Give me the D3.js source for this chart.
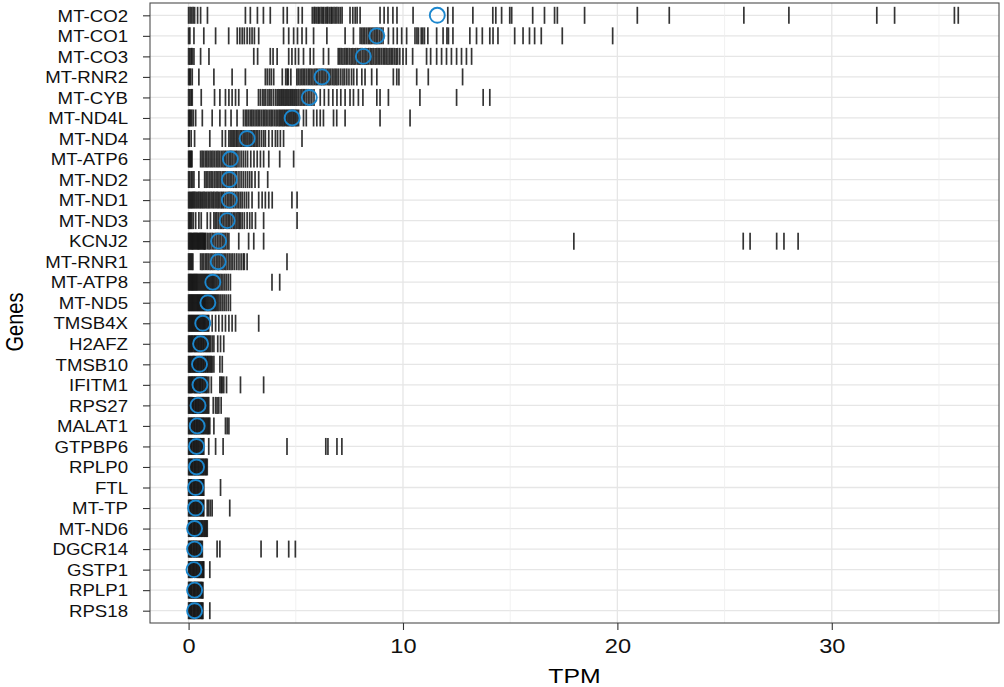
<!DOCTYPE html>
<html>
<head>
<meta charset="utf-8">
<script src="https://cdn.jsdelivr.net/npm/d3@7"></script>
<style>
  body { margin: 0; background: #fff; }
  svg { display: block; font-family: "Liberation Sans", Arial, sans-serif; }
</style>
</head>
<body>
<div id="graph_div"></div>
<script>
// genes, top to bottom
const genes = ["MT-CO2", "MT-CO1", "MT-CO3", "MT-RNR2", "MT-CYB", "MT-ND4L", "MT-ND4", "MT-ATP6",
  "MT-ND2", "MT-ND1", "MT-ND3", "KCNJ2", "MT-RNR1", "MT-ATP8", "MT-ND5", "TMSB4X", "H2AFZ",
  "TMSB10", "IFITM1", "RPS27", "MALAT1", "GTPBP6", "RPLP0", "FTL", "MT-TP", "MT-ND6", "DGCR14",
  "GSTP1", "RPLP1", "RPS18"];

// blue circles, one per gene
const meanTPM = [11.6, 8.78, 8.15, 6.22, 5.63, 4.83, 2.73, 1.95, 1.9, 1.9, 1.8, 1.4, 1.38, 1.13,
  0.9, 0.66, 0.56, 0.51, 0.53, 0.44, 0.4, 0.37, 0.37, 0.33, 0.33, 0.28, 0.28, 0.25, 0.28, 0.28];

const xTicks = [0, 10, 20, 30];
const xMinor = [5, 15, 25, 35];

// per-cell TPM values (tick marks), same order as genes
const cellTPM = [
  // MT-CO2
  [0, 0.07, 0.14, 0.21, 0.28, 0.42, 0.56, 0.88, 2.65, 2.88, 3.21, 3.49, 3.81, 4.42, 4.6, 5.12, 5.3,
   5.77, 5.85, 5.9, 5.98, 6.05, 6.1, 6.18, 6.25, 6.3, 6.38, 6.45, 6.5, 6.58, 6.65, 6.7, 6.78, 6.85,
   6.92, 7.0, 7.08, 7.16, 7.53, 7.66, 7.77, 7.86, 8.0, 8.93, 9.12, 9.3, 9.53, 9.72, 10.47, 12.09,
   12.33, 13.26, 14.19, 14.33, 14.6, 14.98, 15.07, 16.05, 16.6, 17.07, 17.2, 18.47, 20.93, 22.42,
   25.9, 28.0, 32.1, 32.93, 35.72, 35.9],
  // MT-CO1
  [0, 0.06, 0.25, 0.71, 1.26, 1.87, 2.27, 2.39, 2.5, 2.6, 2.73, 2.85, 2.96, 3.07, 3.27, 4.43, 4.67,
   4.9, 5.08, 5.29, 5.49, 5.83, 6.45, 7.3, 7.69, 8.0, 8.08, 8.15, 8.22, 8.3, 8.38, 8.45, 8.52, 8.6,
   8.68, 8.75, 8.82, 8.9, 8.98, 9.07, 9.32, 9.55, 9.73, 9.94, 10.17, 10.56, 10.65, 10.72, 10.85,
   10.92, 11.0, 11.16, 11.57, 11.87, 12.05, 12.12, 12.33, 13.12, 13.43, 13.7, 14.05, 14.2, 14.43,
   15.21, 15.6, 15.9, 16.14, 16.45, 17.43, 19.78],
  // MT-CO3
  [0, 0.06, 0.12, 0.17, 0.25, 0.56, 0.95, 3.04, 3.22, 3.81, 3.94, 4.13, 4.67, 4.82, 4.98, 5.13, 5.36,
   5.67, 5.83, 6.29, 6.53, 6.98, 7.05, 7.12, 7.2, 7.28, 7.35, 7.42, 7.5, 7.58, 7.65, 7.72, 7.8, 7.88,
   7.95, 8.02, 8.1, 8.18, 8.25, 8.32, 8.4, 8.48, 8.55, 8.62, 8.7, 8.78, 8.85, 8.92, 9.0, 9.08, 9.15,
   9.22, 9.3, 9.38, 9.45, 9.52, 9.6, 9.68, 9.75, 9.85, 10.0, 10.15, 10.45, 11.1, 11.29, 11.57, 11.8,
   12.03, 12.26, 12.5, 12.73, 12.96, 13.2],
  // MT-RNR2
  [0, 0.05, 0.09, 0.17, 0.48, 1.18, 2.03, 2.65, 3.58, 3.67, 3.77, 3.86, 3.97, 4.37, 4.53, 4.6, 4.65,
   4.77, 5.05, 5.12, 5.2, 5.28, 5.35, 5.42, 5.5, 5.58, 5.65, 5.72, 5.8, 5.88, 5.95, 6.02, 6.1, 6.18,
   6.25, 6.32, 6.4, 6.48, 6.55, 6.62, 6.7, 6.78, 6.85, 6.92, 7.0, 7.1, 7.2, 7.28, 7.38, 7.48, 7.6,
   7.7, 7.85, 8.08, 8.23, 8.54, 8.78, 9.55, 9.71, 9.81, 10.64, 11.18, 12.78],
  // MT-CYB
  [0, 0.06, 0.12, 0.17, 0.59, 1.21, 1.46, 1.72, 1.88, 2.03, 2.19, 2.34, 2.73, 3.26, 3.35, 3.45, 3.52,
   3.6, 3.7, 3.78, 3.85, 3.95, 4.05, 4.13, 4.2, 4.26, 4.32, 4.38, 4.44, 4.5, 4.56, 4.62, 4.68, 4.74,
   4.8, 4.86, 4.92, 4.98, 5.05, 5.12, 5.2, 5.28, 5.35, 5.42, 5.5, 5.58, 5.66, 5.75, 5.85, 6.14, 6.33,
   6.53, 6.73, 6.92, 7.1, 7.3, 7.53, 7.69, 7.92, 8.13, 8.78, 8.93, 9.32, 10.79, 12.5, 13.74, 14.05],
  // MT-ND4L
  [0, 0.05, 0.09, 0.15, 0.22, 0.33, 0.64, 1.1, 1.46, 1.72, 1.98, 2.26, 2.56, 2.65, 2.72, 2.8, 2.88,
   2.95, 3.02, 3.1, 3.18, 3.25, 3.32, 3.4, 3.48, 3.55, 3.62, 3.7, 3.78, 3.85, 3.92, 4.0, 4.08, 4.15,
   4.22, 4.28, 4.34, 4.4, 4.46, 4.52, 4.58, 4.64, 4.7, 4.76, 4.82, 4.88, 4.94, 5.0, 5.06, 5.13, 5.36,
   5.49, 5.83, 5.98, 6.14, 6.29, 6.76, 6.91, 7.3, 8.93, 10.33],
  // MT-ND4
  [0, 0.03, 0.12, 0.28, 0.99, 1.57, 1.72, 1.88, 1.95, 2.02, 2.08, 2.15, 2.22, 2.28, 2.35, 2.42, 2.48,
   2.55, 2.62, 2.68, 2.75, 2.82, 2.88, 2.95, 3.02, 3.08, 3.15, 3.22, 3.3, 3.4, 3.5, 3.58, 3.74, 3.9,
   4.05, 4.15, 4.28, 4.43, 5.29],
  // MT-ATP6
  [0, 0.04, 0.08, 0.12, 0.16, 0.56, 0.63, 0.7, 0.78, 0.85, 0.92, 1.0, 1.07, 1.14, 1.22, 1.3, 1.37,
   1.44, 1.52, 1.6, 1.67, 1.74, 1.82, 1.9, 1.97, 2.04, 2.12, 2.2, 2.26, 2.35, 2.45, 2.55, 2.65, 2.75,
   2.9, 3.05, 3.2, 3.35, 3.5, 3.74, 4.25, 4.9],
  // MT-ND2
  [0, 0.05, 0.12, 0.18, 0.25, 0.48, 0.75, 0.82, 0.9, 0.98, 1.05, 1.12, 1.2, 1.28, 1.35, 1.42, 1.5,
   1.58, 1.65, 1.72, 1.8, 1.88, 1.95, 2.02, 2.1, 2.18, 2.25, 2.35, 2.45, 2.55, 2.65, 2.75, 2.85, 2.95,
   3.1, 3.27, 3.69],
  // MT-ND1
  [0, 0.05, 0.1, 0.15, 0.2, 0.25, 0.3, 0.36, 0.42, 0.48, 0.54, 0.6, 0.66, 0.72, 0.78, 0.85, 0.92,
   0.98, 1.05, 1.12, 1.18, 1.25, 1.32, 1.38, 1.45, 1.52, 1.58, 1.64, 1.72, 1.8, 1.88, 1.95, 2.02, 2.1,
   2.18, 2.26, 2.34, 2.42, 2.5, 2.6, 2.7, 2.8, 2.96, 3.27, 3.43, 3.58, 3.74, 3.9, 4.82, 5.06],
  // MT-ND3
  [0, 0.05, 0.09, 0.15, 0.22, 0.33, 0.48, 0.59, 0.87, 1.02, 1.18, 1.25, 1.32, 1.4, 1.48, 1.55, 1.62,
   1.7, 1.78, 1.85, 1.92, 2.0, 2.08, 2.15, 2.22, 2.3, 2.36, 2.42, 2.5, 2.6, 2.73, 2.85, 2.96, 3.12,
   3.5, 5.06],
  // KCNJ2
  [0, 0.04, 0.08, 0.12, 0.16, 0.2, 0.24, 0.28, 0.32, 0.36, 0.4, 0.44, 0.48, 0.52, 0.56, 0.6, 0.64,
   0.68, 0.72, 0.76, 0.79, 0.87, 0.95, 1.02, 1.1, 1.18, 1.26, 1.34, 1.42, 1.5, 1.58, 1.65, 1.72, 1.8,
   1.88, 2.34, 2.8, 3.04, 3.5, 17.97, 25.87, 26.19, 27.43, 27.77, 28.43],
  // MT-RNR1
  [0, 0.05, 0.1, 0.15, 0.2, 0.56, 0.63, 0.7, 0.78, 0.85, 0.92, 1.0, 1.07, 1.14, 1.22, 1.3, 1.37,
   1.44, 1.52, 1.6, 1.67, 1.74, 1.82, 1.9, 1.98, 2.06, 2.15, 2.25, 2.35, 2.45, 2.55, 2.6, 2.73, 4.59],
  // MT-ATP8
  [0, 0.04, 0.08, 0.12, 0.16, 0.2, 0.24, 0.28, 0.32, 0.36, 0.4, 0.45, 0.5, 0.55, 0.6, 0.65, 0.7,
   0.75, 0.8, 0.85, 0.9, 0.95, 1.0, 1.05, 1.1, 1.15, 1.2, 1.26, 1.32, 1.38, 1.45, 1.52, 1.6, 1.68,
   1.76, 1.85, 1.95, 3.89, 4.25],
  // MT-ND5
  [0, 0.04, 0.08, 0.12, 0.16, 0.2, 0.24, 0.28, 0.32, 0.36, 0.4, 0.44, 0.48, 0.52, 0.56, 0.6, 0.64,
   0.68, 0.72, 0.76, 0.8, 0.85, 0.9, 0.95, 1.0, 1.05, 1.1, 1.15, 1.2, 1.25, 1.3, 1.36, 1.42, 1.5,
   1.58, 1.66, 1.75, 1.85, 1.95],
  // TMSB4X
  [0, 0.04, 0.08, 0.12, 0.16, 0.2, 0.24, 0.28, 0.32, 0.36, 0.4, 0.44, 0.48, 0.52, 0.56, 0.6, 0.64,
   0.68, 0.72, 0.76, 0.8, 0.85, 0.9, 0.94, 1.1, 1.26, 1.41, 1.57, 1.72, 1.88, 2.03, 2.19, 3.27],
  // H2AFZ
  [0, 0.04, 0.08, 0.12, 0.16, 0.2, 0.25, 0.29, 0.33, 0.37, 0.42, 0.46, 0.5, 0.55, 0.59, 0.63, 0.68,
   0.72, 0.77, 0.82, 0.87, 0.92, 0.97, 1.02, 1.1, 1.18, 1.36, 1.49, 1.64],
  // TMSB10
  [0, 0.04, 0.08, 0.12, 0.17, 0.21, 0.25, 0.29, 0.33, 0.38, 0.42, 0.46, 0.5, 0.55, 0.59, 0.63, 0.68,
   0.72, 0.77, 0.81, 0.86, 0.9, 0.95, 1.0, 1.05, 1.1, 1.18, 1.46, 1.57],
  // IFITM1
  [0, 0.04, 0.08, 0.12, 0.16, 0.2, 0.25, 0.29, 0.33, 0.37, 0.41, 0.46, 0.5, 0.54, 0.58, 0.63, 0.67,
   0.72, 0.77, 0.82, 0.87, 0.94, 1.06, 1.46, 1.52, 1.57, 1.64, 1.77, 2.42, 3.5],
  // RPS27
  [0, 0.04, 0.08, 0.13, 0.17, 0.21, 0.25, 0.3, 0.34, 0.38, 0.43, 0.47, 0.51, 0.56, 0.6, 0.65, 0.69,
   0.74, 0.79, 0.84, 0.89, 0.94, 1.15, 1.26, 1.33, 1.41, 1.52],
  // MALAT1
  [0, 0.04, 0.09, 0.13, 0.17, 0.22, 0.26, 0.3, 0.35, 0.39, 0.43, 0.48, 0.52, 0.57, 0.61, 0.66, 0.7,
   0.75, 0.8, 0.85, 0.9, 0.94, 0.99, 1.18, 1.72, 1.8, 1.88],
  // GTPBP6
  [0, 0.04, 0.08, 0.12, 0.16, 0.21, 0.25, 0.29, 0.34, 0.38, 0.43, 0.47, 0.52, 0.57, 0.62, 0.66, 0.71,
   0.94, 1.26, 1.61, 4.59, 6.4, 6.5, 6.92, 7.15],
  // RPLP0
  [0, 0.04, 0.08, 0.12, 0.16, 0.2, 0.25, 0.29, 0.33, 0.37, 0.42, 0.46, 0.5, 0.55, 0.59, 0.64, 0.68,
   0.73, 0.78, 0.82, 0.87],
  // FTL
  [0, 0.04, 0.08, 0.12, 0.16, 0.21, 0.25, 0.29, 0.33, 0.38, 0.42, 0.46, 0.5, 0.55, 0.59, 0.63, 0.67,
   0.71, 1.49],
  // MT-TP
  [0, 0.04, 0.08, 0.12, 0.17, 0.21, 0.25, 0.29, 0.34, 0.38, 0.42, 0.46, 0.51, 0.55, 0.59, 0.64, 0.68,
   0.71, 0.87, 0.94, 1.02, 1.1, 1.92],
  // MT-ND6
  [0, 0.04, 0.08, 0.12, 0.16, 0.21, 0.25, 0.29, 0.33, 0.38, 0.42, 0.46, 0.5, 0.55, 0.6, 0.64, 0.69,
   0.74, 0.78, 0.83, 0.87],
  // DGCR14
  [0, 0.04, 0.08, 0.12, 0.16, 0.21, 0.25, 0.29, 0.34, 0.38, 0.42, 0.47, 0.51, 0.55, 0.6, 0.64, 1.33,
   1.46, 3.38, 4.13, 4.67, 4.98],
  // GSTP1
  [0, 0.04, 0.08, 0.12, 0.17, 0.21, 0.25, 0.29, 0.34, 0.38, 0.42, 0.47, 0.51, 0.55, 0.6, 0.64, 0.68,
   0.71, 0.99],
  // RPLP1
  [0, 0.04, 0.08, 0.12, 0.16, 0.21, 0.25, 0.29, 0.33, 0.38, 0.42, 0.46, 0.5, 0.55, 0.59, 0.63, 0.67],
  // RPS18
  [0, 0.04, 0.08, 0.12, 0.16, 0.21, 0.25, 0.29, 0.33, 0.38, 0.42, 0.46, 0.5, 0.55, 0.59, 0.63, 0.67,
   0.99]
];

const width = 1004;
const height = 687;
const panel = { left: 150, right: 999, top: 3, bottom: 623 };
const sx = 1.18; // the reference text is a little stretched sideways

const x = d3.scaleLinear().domain([-1.8, 37.8]).range([panel.left, panel.right]);
const y = d3.scalePoint().domain(genes).range([panel.top, panel.bottom]).padding(0.6);

const svg = d3.select("#graph_div")
  .append("svg").attr("width", width).attr("height", height);

// grid
const grid = svg.append("g");
grid.selectAll(".hgrid").data(genes).join("line")
  .attr("x1", panel.left).attr("x2", panel.right)
  .attr("y1", d => y(d)).attr("y2", d => y(d))
  .attr("stroke", "#e6e6e6").attr("stroke-width", 1.3);
grid.selectAll(".vminor").data(xMinor).join("line")
  .attr("x1", d => x(d)).attr("x2", d => x(d))
  .attr("y1", panel.top).attr("y2", panel.bottom)
  .attr("stroke", "#ededed").attr("stroke-width", 0.8);
grid.selectAll(".vmajor").data(xTicks).join("line")
  .attr("x1", d => x(d)).attr("x2", d => x(d))
  .attr("y1", panel.top).attr("y2", panel.bottom)
  .attr("stroke", "#e6e6e6").attr("stroke-width", 1.3);

// tick marks, one per cell
const tickHalf = 8.5;
const rows = svg.append("g").selectAll("g").data(genes).join("g")
  .attr("transform", d => `translate(0,${y(d)})`);

rows.selectAll("line").data((d, i) => cellTPM[i]).join("line")
  .attr("x1", v => x(v)).attr("x2", v => x(v))
  .attr("y1", -tickHalf).attr("y2", tickHalf)
  .attr("stroke", "#111").attr("stroke-opacity", 0.85).attr("stroke-width", 1.7);

// circles
svg.append("g").selectAll("circle").data(genes).join("circle")
  .attr("cx", (d, i) => x(meanTPM[i]))
  .attr("cy", d => y(d))
  .attr("r", 7.5)
  .attr("fill", "none")
  .attr("stroke", "#1C87CE")
  .attr("stroke-width", 1.9);

// panel border
svg.append("rect")
  .attr("x", panel.left).attr("y", panel.top)
  .attr("width", panel.right - panel.left).attr("height", panel.bottom - panel.top)
  .attr("fill", "none").attr("stroke", "#4d4d4d").attr("stroke-width", 1.1);

// y axis
const yAxis = svg.append("g").attr("transform", `translate(${panel.left},0)`)
  .call(d3.axisLeft(y).tickSize(7).tickPadding(0));
yAxis.select(".domain").remove();
yAxis.selectAll(".tick line").attr("stroke", "#333").attr("stroke-width", 1.1);
yAxis.selectAll(".tick text")
  .attr("x", -22 / sx).attr("dy", "0.36em")
  .attr("transform", `scale(${sx},1)`)
  .style("font-size", "15.8px").attr("fill", "#111");

// x axis
const xAxis = svg.append("g").attr("transform", `translate(0,${panel.bottom})`)
  .call(d3.axisBottom(x).tickValues(xTicks).tickSize(7));
xAxis.select(".domain").remove();
xAxis.selectAll(".tick line").attr("stroke", "#333").attr("stroke-width", 1.1);
xAxis.selectAll(".tick text")
  .attr("y", 30).attr("dy", 0)
  .attr("transform", `scale(${sx},1)`)
  .style("font-size", "20px").attr("fill", "#111");

// axis titles
svg.append("text")
  .attr("transform", `translate(${(panel.left + panel.right) / 2},683) scale(${sx},1)`)
  .attr("text-anchor", "middle")
  .style("font-size", "21px")
  .text("TPM");

svg.append("text")
  .attr("transform", `translate(23,322) scale(${sx},1) rotate(-90)`)
  .attr("text-anchor", "middle")
  .style("font-size", "20px")
  .text("Genes");
</script>
</body>
</html>
